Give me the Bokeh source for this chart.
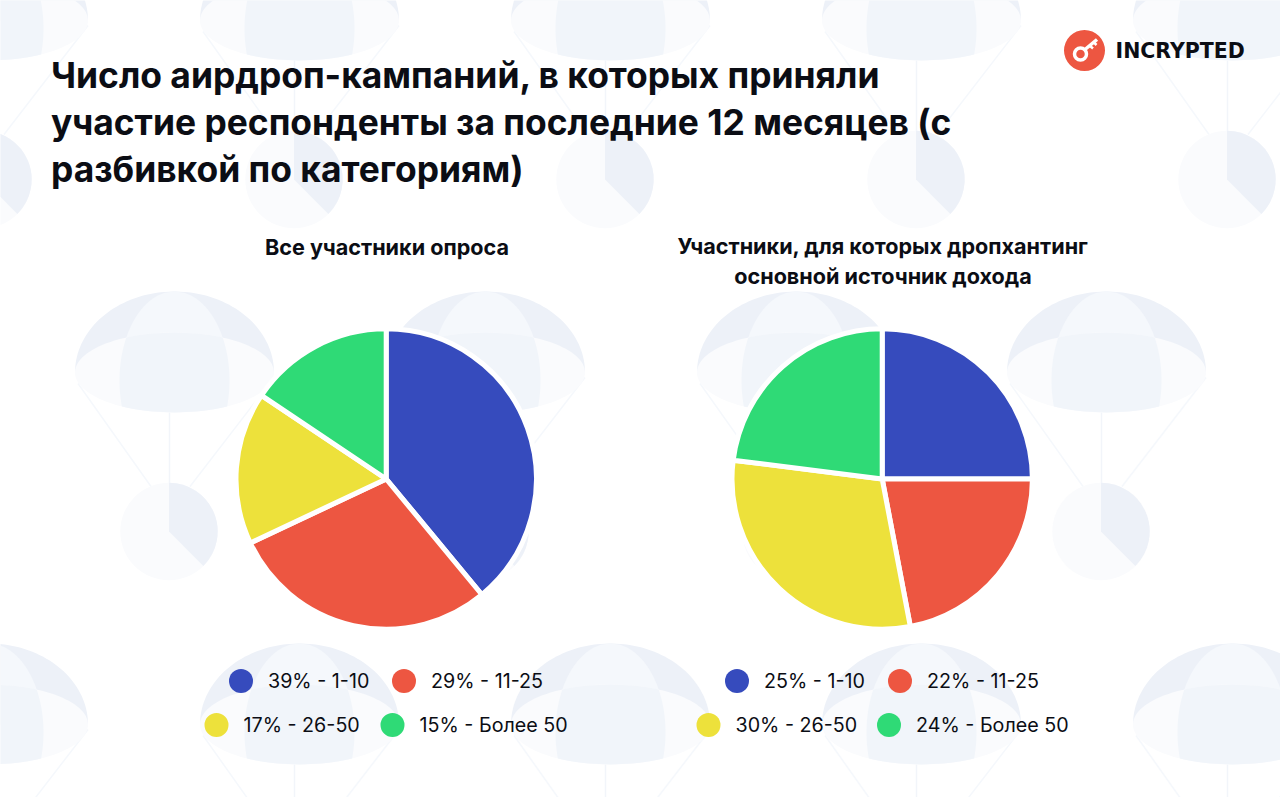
import numpy as np
from bokeh.plotting import figure
from bokeh.models import Range1d
from bokeh.core.properties import value
from bokeh.embed import file_html
from bokeh.resources import INLINE

# ---- data
categories = ["1-10", "11-25", "26-50", "Более 50"]
left_shares = [39, 29, 16.4, 15.6]       # slice sizes as drawn
right_shares = [25, 22, 30, 23]          # slice sizes as drawn
left_labels = ["39%", "29%", "17%", "15%"]
right_labels = ["25%", "22%", "30%", "24%"]
colors = ["#364BBD", "#ED5641", "#EDE13B", "#2FDA76"]
title_lines = ["Число аирдроп-кампаний, в которых приняли",
               "участие респонденты за последние 12 месяцев (с",
               "разбивкой по категориям)"]
left_title = ["Все участники опроса"]
right_title = ["Участники, для которых дропхантинг", "основной источник дохода"]

W, H = 1280, 797
p = figure(width=W, height=H, x_range=Range1d(0, W), y_range=Range1d(0, H),
           output_backend="svg", toolbar_location=None, min_border=0,
           background_fill_color="white", border_fill_color="white", outline_line_color=None)
p.xaxis.visible = False
p.yaxis.visible = False
p.xgrid.visible = False
p.ygrid.visible = False
Y = lambda py: H - np.asarray(py, dtype=float)


def draw_chute(cx, dy):
    wx = cx - 5.5
    # lines
    p.line([wx - 91, wx - 18], Y([383 + dy, 486 + dy]), line_color="#F5F8FC", line_width=1.5)
    p.line([wx + 105, wx + 21], Y([377 + dy, 486 + dy]), line_color="#F5F8FC", line_width=1.5)
    p.line([wx + 0.5, wx + 0.5], Y([412 + dy, 484 + dy]), line_color="#F2F5FA", line_width=1.5)
    # weight
    p.circle([wx], Y([531 + dy]), radius=48.7, fill_color="#FAFBFD", line_color=None)
    p.wedge([wx], Y([531 + dy]), radius=48.7, start_angle=np.pi / 2, end_angle=-np.pi / 4,
            direction="clock", fill_color="#EDF1F8", line_color=None)
    # dome
    rx, cy, ry_top, ry_low = 99.5, 372 + dy, 81, 40
    t = np.linspace(0, np.pi, 80)
    p.patch(cx + rx * np.cos(t), Y(cy - ry_top * np.sin(t)), fill_color="#EDF1F8", line_color=None)
    # gore (upper part)
    gy0, gcy, grx, gry = 291 + dy, 380 + dy, 55, 89
    ys = np.linspace(gy0, cy, 60)
    hw = grx * np.sqrt(np.clip(1 - ((ys - gcy) / gry) ** 2, 0, 1))
    hd = rx * np.sqrt(np.clip(1 - ((ys - cy) / ry_top) ** 2, 0, 1))
    hw = np.minimum(hw, hd)
    p.patch(np.r_[cx - hw, (cx + hw)[::-1]], Y(np.r_[ys, ys[::-1]]), fill_color="#F5F8FC", line_color=None)
    # lower ellipse
    t = np.linspace(0, 2 * np.pi, 120)
    p.patch(cx + rx * np.cos(t), Y(cy + ry_low * np.sin(t)), fill_color="#FAFBFD", line_color=None)
    # gore (lower part)
    ys = np.linspace(cy - ry_low, cy + ry_low, 80)
    he = rx * np.sqrt(np.clip(1 - ((ys - cy) / ry_low) ** 2, 0, 1))
    hw = np.minimum(grx * np.sqrt(np.clip(1 - ((ys - gcy) / gry) ** 2, 0, 1)), he)
    p.patch(np.r_[cx - hw, (cx + hw)[::-1]], Y(np.r_[ys, ys[::-1]]), fill_color="#F1F5FA", line_color=None)


for cx in (-12, 299, 610, 921, 1232):
    draw_chute(cx, -352)
for cx in (174, 485, 796, 1106):
    draw_chute(cx, 0)
for cx in (-12, 299, 610, 921, 1232):
    draw_chute(cx, 352)


def pie(shares, cx, cy, r):
    v = np.asarray(shares, dtype=float)
    ends = np.cumsum(v) / v.sum() * 2 * np.pi
    starts = np.r_[0, ends[:-1]]
    p.wedge(x=[cx] * len(v), y=[float(Y(cy))] * len(v), radius=r,
            start_angle=list(np.pi / 2 - starts), end_angle=list(np.pi / 2 - ends),
            direction="clock", fill_color=colors, line_color="white", line_width=5)


pie(left_shares, 385.7, 478.5, 150.2)
pie(right_shares, 881.7, 478.5, 150.2)


def txt(x, py, s, size, bold=False, align="left", color="#0B0D14", font="Inter"):
    p.text([x], [float(Y(py))], text=[s], text_font=value(font), text_font_size=value(f"{size}px"),
           text_font_style="bold" if bold else "normal", text_align=align,
           text_baseline="middle", text_color=color)


for s, py in zip(title_lines, (74.5, 121.5, 168.5)):
    txt(50.5, py, s, 35.4, bold=True)
txt(386.5, 246.5, left_title[0], 21.6, bold=True, align="center")
for s, py in zip(right_title, (245.5, 275)):
    txt(882.5, py, s, 21.6, bold=True, align="center")


def legend(labels, dots, rows):
    for lab, cat, col, dx, py in zip(labels, categories, colors, dots, rows):
        p.circle([dx], [float(Y(py))], radius=12, fill_color=col, line_color=None)
        txt(dx + 27, py - 0.5, f"{lab} - {cat}", 19.7)


legend(left_labels, (240.5, 403.5, 216, 392), (680.5, 680.5, 724.5, 724.5))
legend(right_labels, (736.5, 899.5, 708, 888.5), (680.5, 680.5, 724.5, 724.5))

# logo
p.circle([1084], [float(Y(50))], radius=20.5, fill_color="#ED5641", line_color=None)
p.circle([1080], [float(Y(53.5))], radius=6, fill_color=None, line_color="white", line_width=3.5)
p.line([1084.5, 1096.5], Y([49, 39]), line_color="white", line_width=3.5)
p.line([1089, 1092.5], Y([45, 48]), line_color="white", line_width=2.5)
p.line([1093, 1096], Y([41.5, 44.5]), line_color="white", line_width=2.5)
txt(1115, 50, "INCRYPTED", 20.5, bold=True, font="DejaVu Sans")

open("out.html", "w").write(file_html(p, INLINE))
